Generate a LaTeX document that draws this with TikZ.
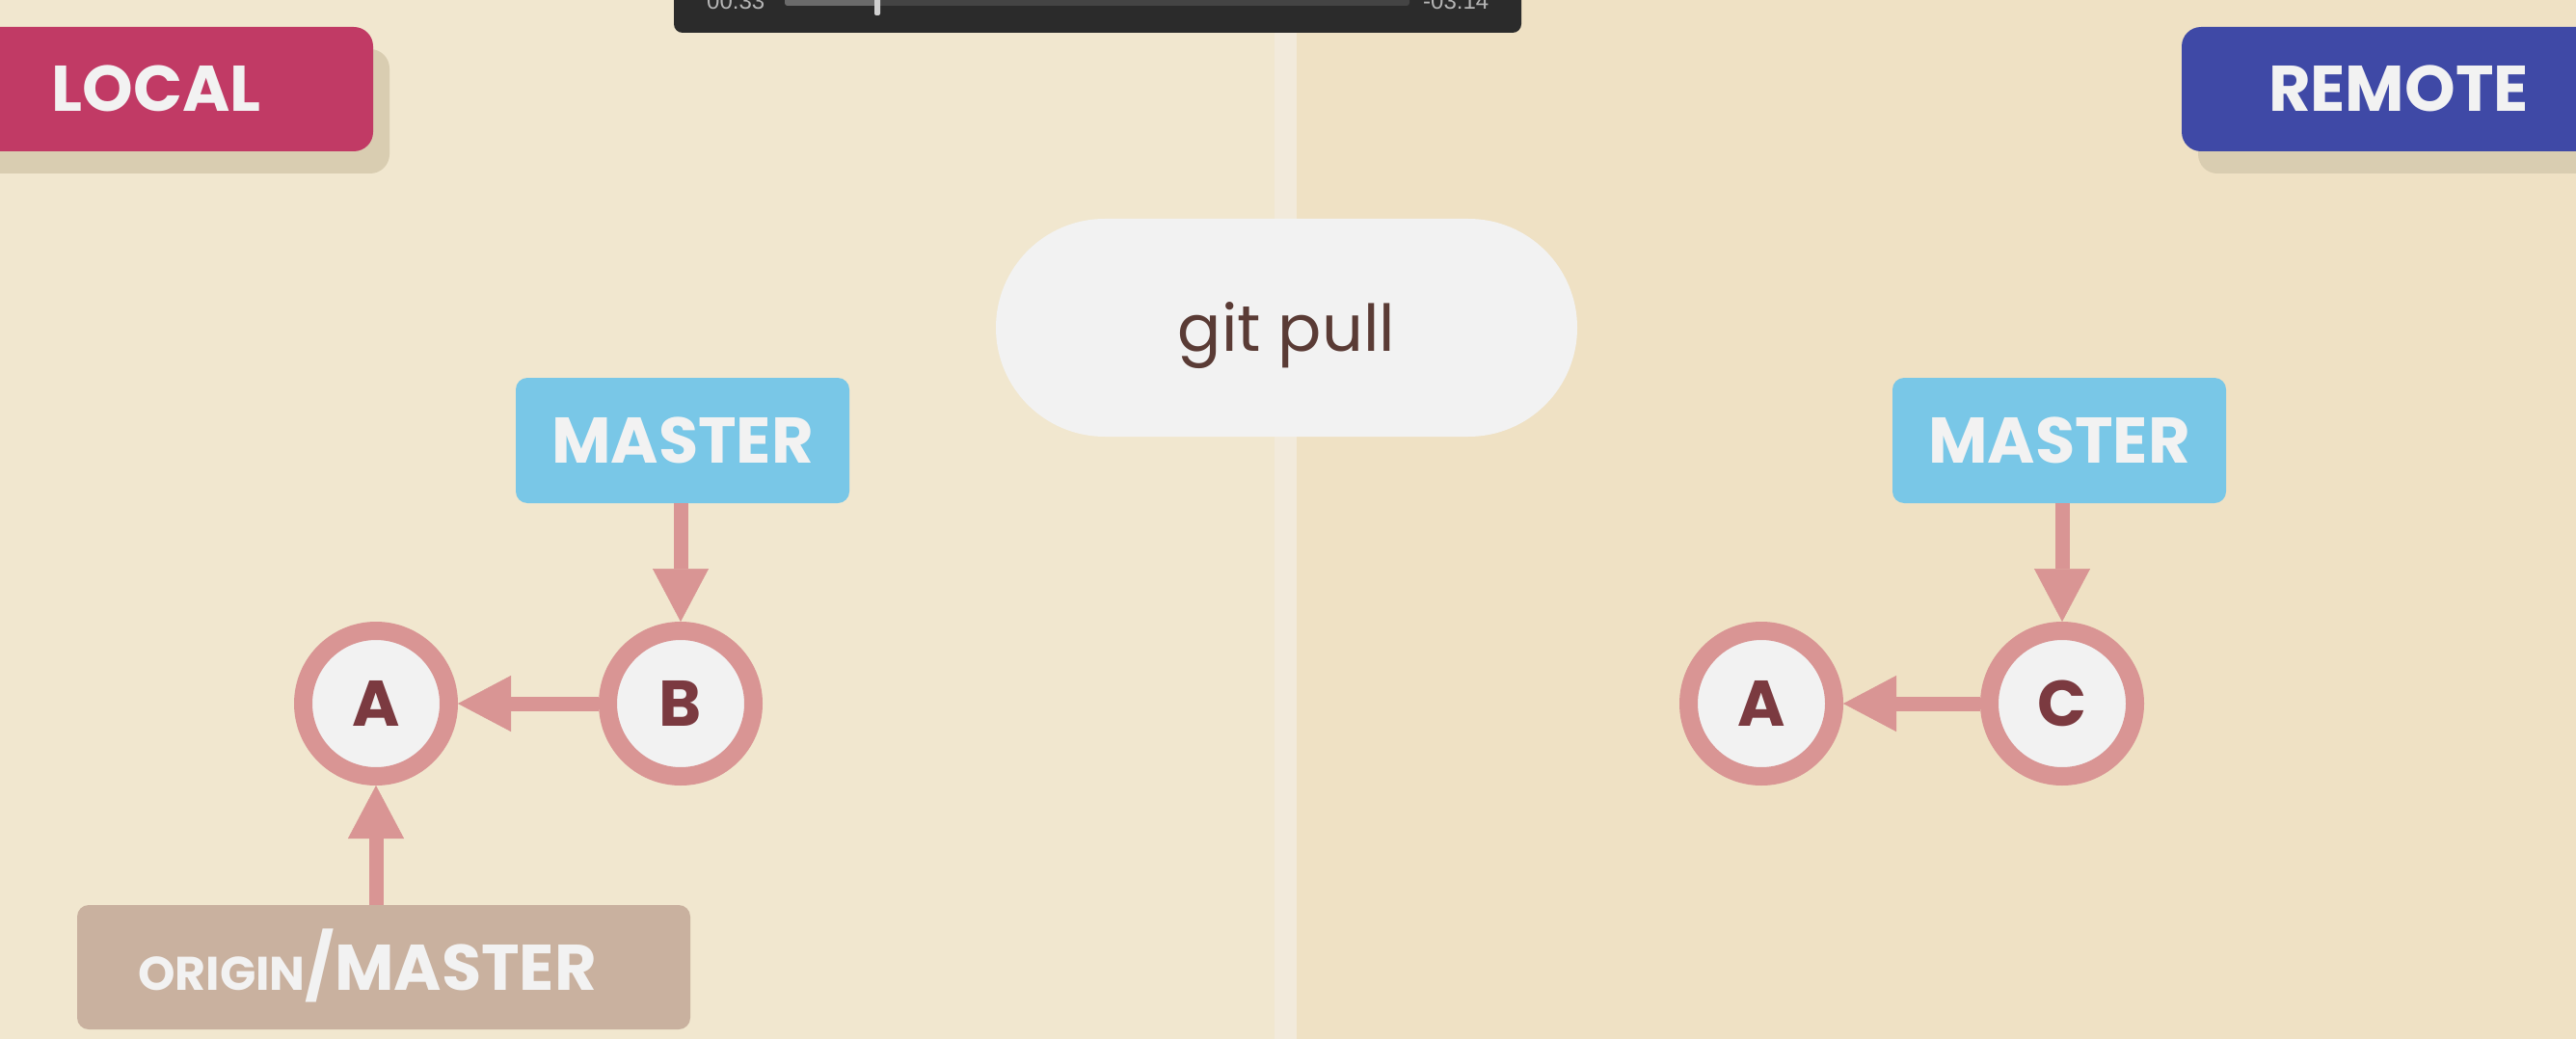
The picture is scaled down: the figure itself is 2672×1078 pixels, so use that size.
\documentclass[tikz,border=0pt]{standalone}
\usepackage{fontspec}
\setmainfont{Poppins}
\newfontfamily\uifont{Liberation Sans}
\usetikzlibrary{arrows.meta}
\definecolor{bgL}{HTML}{F1E7CF}
\definecolor{bgR}{HTML}{EFE1C4}
\definecolor{stripec}{HTML}{F2EADB}
\definecolor{localc}{HTML}{C13A65}
\definecolor{remotec}{HTML}{3F49A6}
\definecolor{shadowc}{HTML}{D9CDB1}
\definecolor{masterc}{HTML}{79C7E7}
\definecolor{originc}{HTML}{C9B19F}
\definecolor{ringc}{HTML}{D99594}
\definecolor{fillw}{HTML}{F2F2F2}
\definecolor{letterc}{HTML}{7B3A40}
\definecolor{gitc}{HTML}{5A3B35}
\definecolor{barc}{HTML}{2B2B2B}
\definecolor{trackc}{HTML}{444444}
\definecolor{playedc}{HTML}{6B6B6B}
\definecolor{thumbc}{HTML}{D0D0D0}
\definecolor{timec}{HTML}{B5B5B5}
\begin{document}
\begin{tikzpicture}[x=1pt,y=-1pt,
  bigfont/.style={font=\fontsize{67}{67}\selectfont\bfseries},
  tag/.style={rectangle, rounded corners=20pt, minimum width=450pt, minimum height=129pt,
    inner sep=0pt, outer sep=0pt, text=fillw, bigfont, text height=47pt, text depth=0pt,
    preaction={fill=shadowc, transform canvas={xshift=17pt,yshift=-23pt}}},
  branch/.style={rectangle, rounded corners=12pt, minimum width=346pt, minimum height=130pt,
    inner sep=0pt, outer sep=0pt, text=fillw, bigfont, text height=47pt, text depth=0pt},
  commit/.style={circle, draw=ringc, line width=19pt, fill=fillw, minimum size=151pt,
    inner sep=0pt, outer sep=9.5pt, text=letterc, bigfont, text height=47pt, text depth=0pt},
  link/.style={draw=ringc, line width=15pt, -{Triangle[width=58pt,length=55pt,line width=0.5pt]}},
  pill/.style={rectangle, rounded corners=112.9pt, fill=fillw, minimum width=603pt, minimum height=226pt,
    inner sep=0pt, text=gitc, font=\fontsize{67}{67}\selectfont, text height=49pt, text depth=1pt},
  timetext/.style={text=timec, font=\uifont\fontsize{24}{24}\selectfont, inner sep=0pt, anchor=base west}
]
\useasboundingbox (0,0) rectangle (2672,1078);
\clip (0,0) rectangle (2672,1078);
% background
\fill[bgL] (0,0) rectangle (1322,1078);
\fill[stripec] (1322,0) rectangle (1345,1078);
\fill[bgR] (1345,0) rectangle (2672,1078);
% video bar
\fill[barc, rounded corners=9pt] (699,-30) rectangle (1578,34);
\fill[trackc, rounded corners=3pt] (814,-20) rectangle (1462,6);
\fill[playedc, rounded corners=3pt] (814,-20) rectangle (910,6);
\fill[thumbc, rounded corners=2pt] (907,-20) rectangle (913,16);
\node[timetext] (tcur) at (733,10) {00:33};
\node[timetext] (trem) at (1476,10) {-03:14};
% labels
\node[tag, fill=localc] (local) at (162,92.5) {LOCAL};
\node[tag, fill=remotec] (remote) at (2488,92.5) {REMOTE};
% command
\node[pill] (cmd) at (1334.5,340) {git pull};
% branches
\node[branch, fill=masterc] (mL) at (708,457) {MASTER};
\node[branch, fill=masterc] (mR) at (2136,457) {MASTER};
\node[branch, fill=originc, minimum width=636pt, minimum height=129pt] (orig) at (398,1003.5)
  {{\fontsize{49}{49}\selectfont ORIGIN}/MASTER\hspace*{34pt}};
% commits
\node[commit] (A1) at (390,730) {A};
\node[commit] (B) at (706,730) {B};
\node[commit] (A2) at (1827,730) {A};
\node[commit] (C) at (2139,730) {C};
% connectors
\draw[link] (B |- mL.south) -- (B.north);
\draw[link] (B.west) -- (A1.east);
\draw[link] (A1 |- orig.north) -- (A1.south);
\draw[link] (C |- mR.south) -- (C.north);
\draw[link] (C.west) -- (A2.east);
\end{tikzpicture}
\end{document}
